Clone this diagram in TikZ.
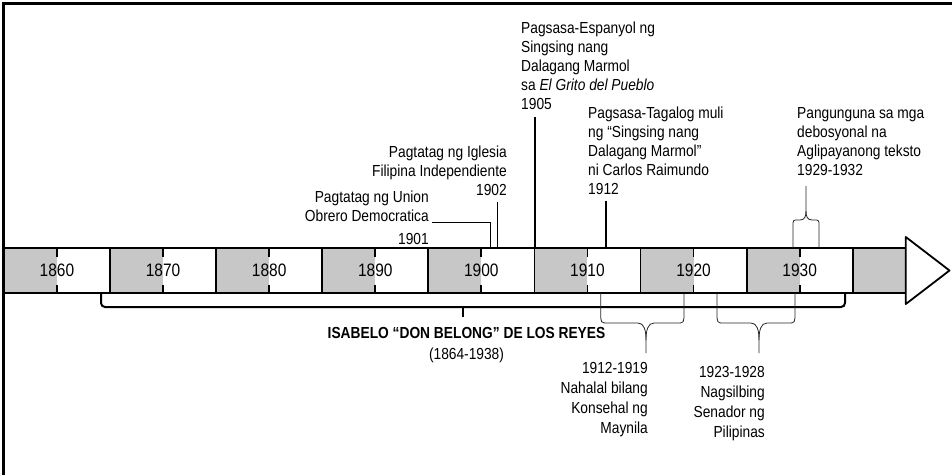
\documentclass[tikz,border=0pt]{standalone}
\usepackage{fontspec}
\setmainfont{Liberation Sans}[FakeStretch=0.86]
\definecolor{barg}{RGB}{199,199,199}
\begin{document}
\begin{tikzpicture}[x=1pt,y=-1pt,
  barline/.style={line width=1.8pt},
  tickline/.style={line width=1.8pt},
  conn/.style={line width=1.4pt},
  thinconn/.style={line width=0.9pt},
  brace/.style={line width=0.8pt, draw=black!85},
  lifebar/.style={line width=2pt, rounded corners=4pt},
  yearlbl/.style={font=\fontsize{18}{20}\selectfont, inner sep=0pt},
  evt/.style={font=\fontsize{16}{19}\selectfont, inner sep=0pt},
  evtb/.style={font=\fontsize{16}{20}\selectfont, inner sep=0pt, align=right}]
\useasboundingbox (0,0) rectangle (952,475);
% frame
\draw[line width=2.6pt] (3.5,475) -- (3.5,3.5) -- (952,3.5);
% timeline blocks
\foreach \i/\yr in {0/1860,1/1870,2/1880,3/1890,4/1900,5/1910,6/1920,7/1930} {
  \pgfmathsetmacro\xs{3.9+\i*106.1}
  \fill[barg] (\xs,248) rectangle (\xs+53.05,293);
  \draw[barline] (\xs,248) rectangle (\xs+106.1,293);
  \draw[tickline] (\xs+53.05,248) -- ++(0,8.5);
  \draw[tickline] (\xs+53.05,293) -- ++(0,-8.5);
  \node[yearlbl] (y\yr) at (\xs+53.05,270.5) {\yr};
}
\fill[barg] (852.7,248) rectangle (905.8,293);
\draw[barline] (852.7,248) rectangle (905.8,293);
\draw[barline, fill=white, line join=round] (905.8,237) -- (949.5,270.5) -- (905.8,304) -- cycle;
% events above
\node[evt, anchor=north west, align=left] (t1905) at (521,21.5)
  {Pagsasa-Espanyol ng\\Singsing nang\\Dalagang Marmol\\sa \textit{El Grito del Pueblo}\\1905};
\coordinate (e1905) at (535,117);
\coordinate (b1905) at (535,248);
\draw[conn] (e1905) -- (b1905);
\node[evt, anchor=north west, align=left] (t1912) at (588,107)
  {Pagsasa-Tagalog muli\\ng “Singsing nang\\Dalagang Marmol”\\ni Carlos Raimundo\\1912};
\coordinate (e1912) at (606,200.5);
\coordinate (b1912) at (606,248);
\draw[conn] (e1912) -- (b1912);
\node[evt, anchor=north east, align=right] (t1902) at (507,145.5)
  {Pagtatag ng Iglesia\\Filipina Independiente\\1902};
\coordinate (e1902) at (497.3,201.5);
\coordinate (b1902) at (497.3,248);
\draw[conn] (e1902) -- (b1902);
\node[evt, anchor=north east, align=right] (t1901) at (429,190.5)
  {Pagtatag ng Union\\Obrero Democratica\\[4pt]1901};
\coordinate (e1901) at (431.7,222.7);
\coordinate (b1901) at (490,248);
\draw[thinconn] (e1901) -| (b1901);
\node[evt, anchor=north west, align=left] (t1929) at (797,107)
  {Pangunguna sa mga\\debosyonal na\\Aglipayanong teksto\\1929-1932};
\coordinate (c1929) at (806,186);
\coordinate (l1929) at (793,248);
\coordinate (r1929) at (819,248);
\draw[brace] (l1929) -- (793,226) .. controls (793,220) .. (798,220) -- (800,220)
  .. controls (805,220) and (806,216) .. (806,211) -- (c1929);
\draw[brace] (r1929) -- (819,226) .. controls (819,220) .. (814,220) -- (812,220)
  .. controls (807,220) and (806,216) .. (806,211);
% lifespan
\coordinate (life1) at (101,293.5);
\coordinate (life2) at (845,293.5);
\coordinate (lifec) at (463,317);
\draw[lifebar] (life1) -- (101,307) -- (845,307) -- (life2);
\draw[line width=2pt] (463,306) -- (lifec);
\node[font=\fontsize{16}{21}\selectfont, inner sep=0pt, align=center, anchor=north] (life) at (466.5,327.5)
  {\textbf{ISABELO “DON BELONG” DE LOS REYES}\\(1864-1938)};
% braces below
\coordinate (c1912) at (646,353);
\draw[brace] (600.7,293) -- (600.7,312) .. controls (600.7,323) .. (608,323) -- (638,323)
  .. controls (644,323) and (646,330) .. (646,340) -- (c1912);
\draw[brace] (684,293) -- (684,312) .. controls (684,323) .. (677,323) -- (654,323)
  .. controls (648,323) and (646,330) .. (646,340);
\node[evtb, anchor=north east] (t1919) at (648,362.5)
  {1912-1919\\Nahalal bilang\\Konsehal ng\\Maynila};
\coordinate (c1923) at (759,353);
\draw[brace] (717,293) -- (717,312) .. controls (717,323) .. (724,323) -- (751,323)
  .. controls (757,323) and (759,330) .. (759,340) -- (c1923);
\draw[brace] (795,293) -- (795,312) .. controls (795,323) .. (788,323) -- (767,323)
  .. controls (761,323) and (759,330) .. (759,340);
\node[evtb, anchor=north east] (t1923) at (765,366.5)
  {1923-1928\\Nagsilbing\\Senador ng\\Pilipinas};
\end{tikzpicture}
\end{document}
